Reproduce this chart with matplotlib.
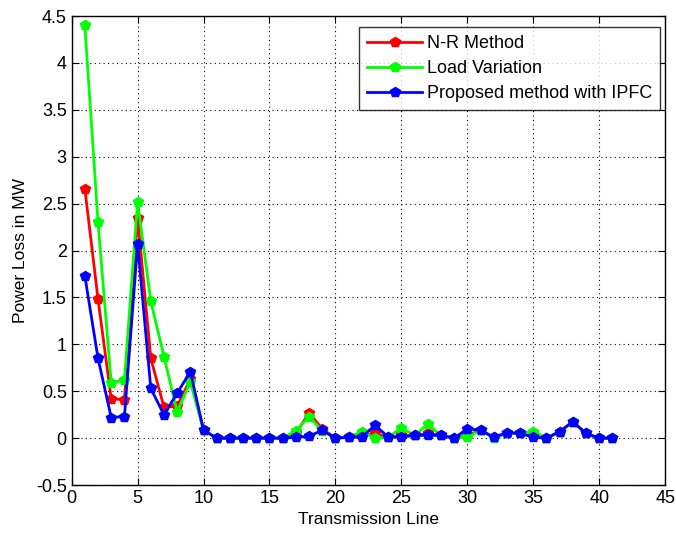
import matplotlib
matplotlib.use("Agg")
import matplotlib.pyplot as plt
import numpy as np

lines_x = list(range(1, 42))

nr_method = [2.66, 1.48, 0.42, 0.41, 2.35, 0.85, 0.33, 0.34, 0.63, 0.085,
             0, 0, 0, 0, 0, 0, 0.05, 0.27, 0.10, 0,
             0.01, 0.03, 0.05, 0.01, 0.03, 0.03, 0.05, 0.03, 0, 0.03,
             0.085, 0.01, 0.05, 0.05, 0.03, 0, 0.07, 0.175, 0.05, 0, 0]

load_variation = [4.40, 2.30, 0.59, 0.62, 2.52, 1.46, 0.87, 0.28, 0.60, 0.085,
                  0, 0, 0, 0, 0, 0, 0.08, 0.23, 0.08, 0,
                  0.01, 0.07, 0.0, 0.01, 0.11, 0.03, 0.15, 0.03, 0, 0.01,
                  0.085, 0.0, 0.05, 0.05, 0.07, 0, 0.07, 0.175, 0.05, 0, 0]

proposed_ipfc = [1.73, 0.85, 0.22, 0.23, 2.07, 0.53, 0.25, 0.48, 0.71, 0.085,
                 0, 0, 0, 0, 0, 0, 0.01, 0.02, 0.085, 0,
                 0.01, 0.01, 0.14, 0.01, 0.01, 0.03, 0.03, 0.03, 0, 0.10,
                 0.085, 0.01, 0.06, 0.05, 0.01, 0, 0.07, 0.175, 0.05, 0, 0]

series_names = ["N-R Method", "Load Variation", "Proposed method with IPFC"]
xticks = [0, 5, 10, 15, 20, 25, 30, 35, 40, 45]
yticks = [-0.5, 0, 0.5, 1, 1.5, 2, 2.5, 3, 3.5, 4, 4.5]

plt.rcParams['font.family'] = ['Liberation Sans', 'DejaVu Sans']

fig = plt.figure(figsize=(6.76, 5.36), dpi=100)
ax = fig.add_axes([0.106, 0.095, 0.878, 0.875])

for vals, col, name in [(nr_method, (1, 0, 0), series_names[0]),
                        (load_variation, (0, 1, 0), series_names[1]),
                        (proposed_ipfc, (0, 0, 1), series_names[2])]:
    ax.plot(lines_x, vals, color=col, lw=2, marker='p', markersize=7,
            markeredgecolor=col, markerfacecolor=col, label=name)

ax.set_xlim(0, 45)
ax.set_ylim(-0.5, 4.5)
ax.set_xticks(xticks)
ax.set_yticks(yticks)
ax.set_xticklabels([str(t) for t in xticks])
ax.set_yticklabels(["-0.5", "0", "0.5", "1", "1.5", "2", "2.5", "3", "3.5", "4", "4.5"])
ax.tick_params(direction='in', length=5, labelsize=13, top=True, right=True)
ax.grid(True, linestyle=(0, (1, 3)), color='black', linewidth=0.8)
for s in ax.spines.values():
    s.set_linewidth(1.0)

ax.set_xlabel("Transmission Line", fontsize=12.5, labelpad=4)
ax.set_ylabel("Power Loss in MW", fontsize=12.5, labelpad=6)

leg = ax.legend(loc='upper right', bbox_to_anchor=(0.992, 0.977), fontsize=13,
                frameon=True, fancybox=False, edgecolor='black',
                handlelength=3.0, borderpad=0.45, labelspacing=0.45,
                handletextpad=0.3, borderaxespad=0)
leg.get_frame().set_linewidth(1.0)

fig.savefig("out.png", dpi=100)
